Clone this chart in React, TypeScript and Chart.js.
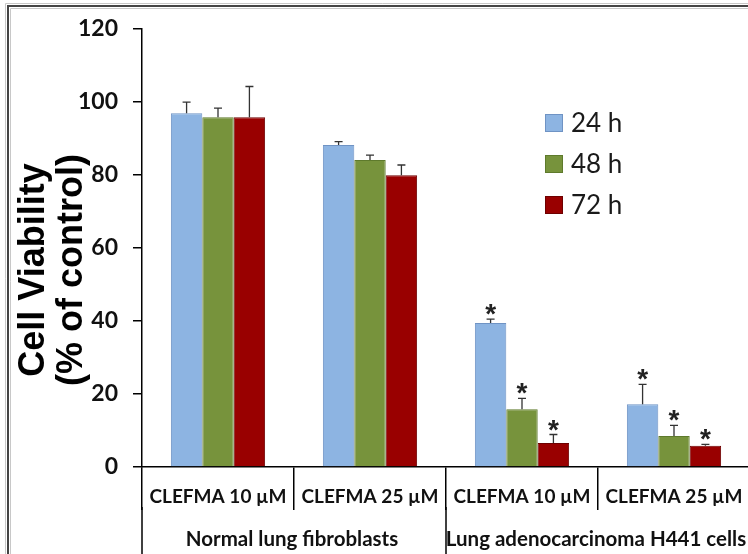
import React, { useEffect, useRef } from "react";
import { Chart, registerables } from "chart.js";

Chart.register(...registerables);

const categories = ["CLEFMA 10 µM", "CLEFMA 25 µM", "CLEFMA 10 µM", "CLEFMA 25 µM"];
const groupLabels = ["Normal lung fibroblasts", "Lung adenocarcinoma H441 cells"];
const groupSpans = [[0, 1], [2, 3]];
const seriesLabels = ["24 h", "48 h", "72 h"];
const values24 = [96.9, 88.2, 39.4, 17.2];
const values48 = [95.8, 84.1, 15.8, 8.5];
const values72 = [95.8, 79.9, 6.6, 5.8];
const errors24 = [3.0, 0.9, 1.1, 5.4];
const errors48 = [2.5, 1.3, 3.0, 2.9];
const errors72 = [8.4, 2.8, 2.3, 0.4];
const signif24 = [false, false, true, true];
const signif48 = [false, false, true, true];
const signif72 = [false, false, true, true];
const yTicks = [0, 20, 40, 60, 80, 100, 120];
const yTitle = ["Cell Viability", "(% of control)"];

const fills = ["#8db4e2", "#77933c", "#990000"];
const borders = ["#6f93c4", "#5e7a2c", "#6e0000"];

const LABEL_FONT = "Lato, 'Open Sans', sans-serif";

export default function App() {
  const ref = useRef<HTMLCanvasElement | null>(null);

  useEffect(() => {
    document.body.style.margin = "0";
    const canvas = ref.current;
    if (!canvas) return;
    const errs = [errors24, errors48, errors72];
    const sigs = [signif24, signif48, signif72];

    const overlay = {
      id: "overlay",
      afterDatasetsDraw(chart: any) {
        const ctx = chart.ctx;
        const y = chart.scales.y;
        ctx.save();
        chart.data.datasets.forEach((ds: any, d: number) => {
          const meta = chart.getDatasetMeta(d);
          meta.data.forEach((bar: any, i: number) => {
            const v = ds.data[i];
            const top = y.getPixelForValue(v + errs[d][i]);
            ctx.strokeStyle = "#333";
            ctx.lineWidth = 1.3;
            ctx.beginPath();
            ctx.moveTo(bar.x, bar.y);
            ctx.lineTo(bar.x, top);
            ctx.moveTo(bar.x - 4, top);
            ctx.lineTo(bar.x + 4, top);
            ctx.stroke();
            if (sigs[d][i]) {
              ctx.fillStyle = "#222";
              ctx.font = "bold 28px 'Liberation Sans', Arial, sans-serif";
              ctx.textAlign = "center";
              ctx.textBaseline = "alphabetic";
              ctx.fillText("*", bar.x, top + 4);
            }
          });
        });
        ctx.restore();
      },
      afterDraw(chart: any) {
        const ctx = chart.ctx;
        const x = chart.scales.x;
        const area = chart.chartArea;
        const H = chart.height;
        ctx.save();
        // group separators below category separators
        const half = (x.getPixelForValue(1) - x.getPixelForValue(0)) / 2;
        ctx.strokeStyle = "#000";
        ctx.lineWidth = 1.5;
        const edges = [x.getPixelForValue(0) - half, x.getPixelForValue(2) - half, x.getPixelForValue(3) + half];
        edges.forEach((px) => {
          ctx.beginPath();
          ctx.moveTo(px, area.bottom + 40);
          ctx.lineTo(px, H);
          ctx.stroke();
        });
        // group labels
        ctx.fillStyle = "#111";
        ctx.font = `bold 20.5px ${LABEL_FONT}`;
        ctx.textAlign = "center";
        ctx.textBaseline = "middle";
        groupLabels.forEach((g, k) => {
          const [a, b] = groupSpans[k];
          const cx = (x.getPixelForValue(a) + x.getPixelForValue(b)) / 2;
          ctx.fillText(g, cx - 2, area.bottom + 72);
        });
        // legend
        chart.data.datasets.forEach((ds: any, d: number) => {
          const cy = 123 + d * 41;
          ctx.fillStyle = ds.backgroundColor;
          ctx.fillRect(545, cy - 9, 18, 18);
          ctx.strokeStyle = ds.borderColor;
          ctx.lineWidth = 1;
          ctx.strokeRect(545.5, cy - 8.5, 17, 17);
          ctx.fillStyle = "#1a1a1a";
          ctx.font = `26px ${LABEL_FONT}`;
          ctx.textAlign = "left";
          ctx.textBaseline = "middle";
          ctx.fillText(ds.label, 571, cy + 1);
        });
        // y title
        ctx.fillStyle = "#000";
        ctx.font = "bold 36px 'Liberation Sans', Arial, sans-serif";
        ctx.textAlign = "center";
        ctx.textBaseline = "alphabetic";
        const baselines = [44, 82];
        yTitle.forEach((t, k) => {
          ctx.save();
          ctx.translate(baselines[k], 270);
          ctx.rotate(-Math.PI / 2);
          ctx.fillText(t, 0, 0);
          ctx.restore();
        });
        // frame
        ctx.strokeStyle = "#c8c8c8";
        ctx.lineWidth = 1;
        ctx.beginPath();
        ctx.moveTo(5.5, H);
        ctx.lineTo(5.5, 3.5);
        ctx.lineTo(760, 3.5);
        ctx.moveTo(10.5, H);
        ctx.lineTo(10.5, 8.5);
        ctx.lineTo(760, 8.5);
        ctx.stroke();
        ctx.strokeStyle = "#444";
        ctx.lineWidth = 2;
        ctx.beginPath();
        ctx.moveTo(8, H);
        ctx.lineTo(8, 6);
        ctx.lineTo(760, 6);
        ctx.stroke();
        ctx.restore();
      },
    };

    const chart = new Chart(canvas, {
      type: "bar",
      data: {
        labels: categories,
        datasets: [values24, values48, values72].map((vals, d) => ({
          label: seriesLabels[d],
          data: vals,
          backgroundColor: fills[d],
          borderColor: borders[d],
          borderWidth: 1,
          categoryPercentage: 0.62,
          barPercentage: 1.0,
        })),
      },
      options: {
        responsive: false,
        animation: false,
        devicePixelRatio: 1,
        layout: { padding: { left: 0, top: 25, right: 10, bottom: 0 } },
        plugins: { legend: { display: false }, tooltip: { enabled: false } },
        scales: {
          x: {
            offset: true,
            grid: {
              display: true,
              drawOnChartArea: false,
              drawTicks: true,
              tickLength: 43,
              offset: true,
              color: "#000",
              lineWidth: 1.5,
            },
            border: { display: true, color: "#000", width: 1.5 },
            ticks: {
              color: "#111",
              font: { family: LABEL_FONT, size: 19, weight: "bold" },
              padding: -25,
              maxRotation: 0,
              autoSkip: false,
            },
            afterFit: (s: any) => {
              s.height = 87;
            },
          },
          y: {
            min: 0,
            max: 120,
            afterBuildTicks: (s: any) => {
              s.ticks = yTicks.map((v) => ({ value: v }));
            },
            grid: {
              display: true,
              drawOnChartArea: false,
              drawTicks: true,
              tickLength: 9,
              color: "#000",
              lineWidth: 1.5,
            },
            border: { display: true, color: "#000", width: 1.5 },
            ticks: {
              color: "#111",
              font: { family: LABEL_FONT, size: 23, weight: "bold" },
              padding: 15,
            },
            afterFit: (s: any) => {
              s.width = 142;
            },
          },
        },
      },
      plugins: [overlay],
    });
    return () => chart.destroy();
  }, []);

  return (
    <div style={{ width: 748, height: 554, overflow: "hidden", position: "relative", background: "#fff" }}>
      <canvas ref={ref} width={760} height={554} style={{ display: "block", width: 760, height: 554 }} />
    </div>
  );
}
